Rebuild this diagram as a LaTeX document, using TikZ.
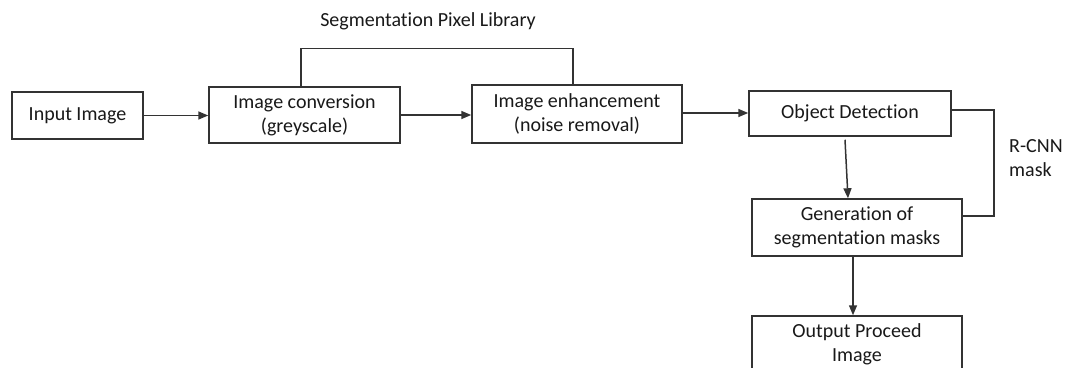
\documentclass[tikz,border=0pt]{standalone}
\usepackage{fontspec}
\setmainfont{Carlito}[Ligatures={NoCommon}]
\usetikzlibrary{arrows.meta}
\begin{document}
\begin{tikzpicture}[x=1pt,y=-1pt,
  every node/.style={font=\fontsize{20}{24}\selectfont, text=black!90},
  blk/.style={draw=black!80, line width=1.5pt, inner sep=0pt, align=center},
  ln/.style={draw=black!80, line width=1.5pt},
  arr/.style={ln, -{Triangle[length=10pt,width=8pt]}}]
\useasboundingbox (0,0) rectangle (1068,367);
\clip (0,0) rectangle (1068,367);
\fill[white] (0,0) rectangle (1068,367);
\node[blk, minimum width=131pt, minimum height=47pt] (in) at (77.5,115.5) {Input Image};
\node[blk, minimum width=191pt, minimum height=56pt] (conv) at (304.5,115) {Image conversion\\(greyscale)};
\node[blk, minimum width=210pt, minimum height=58pt] (enh) at (577,114) {Image enhancement\\(noise removal)};
\node[blk, minimum width=202pt, minimum height=45pt] (od) at (850,113.5) {Object Detection};
\node[blk, minimum width=210pt, minimum height=57pt] (gen) at (857,227.5) {Generation of\\segmentation masks};
\node[blk, minimum width=210pt, minimum height=56pt] (out) at (857,344) {Output Proceed\\Image};
\node (seg) at (428,21) {Segmentation Pixel Library};
\node[anchor=west, align=left, inner sep=0pt] (rcnn) at (1009,158) {R-CNN\\mask};
\draw[arr] (in.east) -- (in.east -| conv.west);
\draw[arr] (conv.east) -- (conv.east -| enh.west);
\draw[arr] ([yshift=1pt]enh.east) -- ([yshift=1pt]enh.east -| od.west);
\draw[arr] ([xshift=-5pt,yshift=-3pt]od.south) -- ([xshift=-9pt]gen.north);
\draw[arr] ([xshift=-4pt]gen.south) -- ([xshift=-4pt]out.north);
\draw[ln] ([xshift=-3.5pt]conv.north) -- ++(0,-38) -| ([xshift=-4pt]enh.north);
\draw[ln] ([yshift=3.5pt]od.east) -- ++(42,0) |- ([xshift=-2pt,yshift=11.5pt]gen.east);
\end{tikzpicture}
\end{document}
